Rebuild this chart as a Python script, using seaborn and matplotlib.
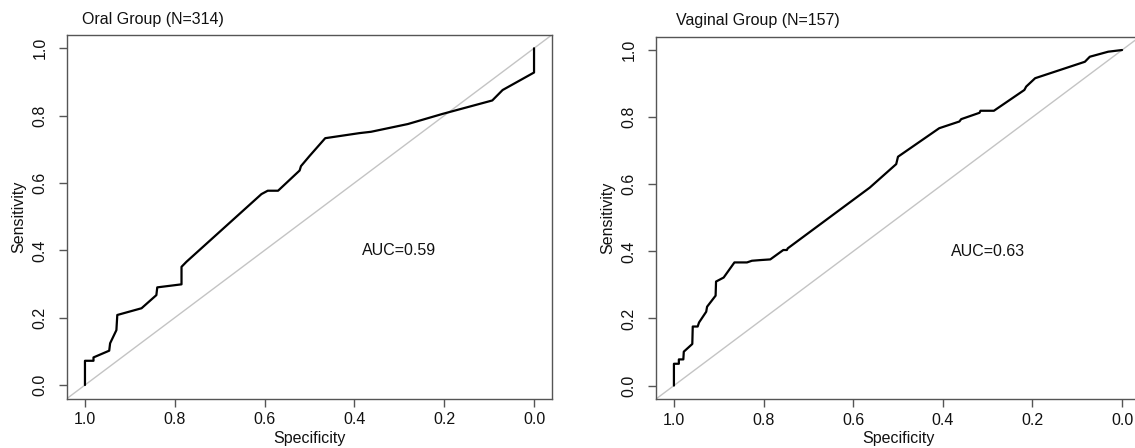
import pandas as pd
import numpy as np
import matplotlib
matplotlib.use('Agg')
import matplotlib.pyplot as plt
import seaborn as sns

# ROC curve points (specificity, sensitivity)
oral_spec = [1.0, 1.0, 0.981, 0.981, 0.946, 0.944, 0.930, 0.928, 0.874, 0.841, 0.839,
             0.785, 0.785, 0.774, 0.607, 0.593, 0.570, 0.522, 0.519, 0.500, 0.465,
             0.389, 0.363, 0.281, 0.204, 0.093, 0.070, 0.0, 0.0]
oral_sens = [0.0, 0.072, 0.072, 0.082, 0.102, 0.124, 0.163, 0.208, 0.228, 0.267, 0.290,
             0.299, 0.351, 0.366, 0.567, 0.577, 0.577, 0.637, 0.650, 0.680, 0.733,
             0.748, 0.752, 0.775, 0.805, 0.845, 0.876, 0.928, 1.0]

vag_spec = [1.0, 1.0, 0.989, 0.989, 0.979, 0.978, 0.959, 0.958, 0.947, 0.944, 0.928,
            0.926, 0.907, 0.906, 0.889, 0.865, 0.837, 0.826, 0.807, 0.785, 0.756,
            0.748, 0.746, 0.563, 0.504, 0.500, 0.408, 0.363, 0.359, 0.318, 0.316,
            0.286, 0.218, 0.214, 0.194, 0.083, 0.072, 0.031, 0.0]
vag_sens = [0.0, 0.065, 0.065, 0.078, 0.078, 0.101, 0.124, 0.176, 0.176, 0.188, 0.220,
            0.235, 0.268, 0.310, 0.322, 0.367, 0.367, 0.372, 0.374, 0.376, 0.404,
            0.404, 0.409, 0.590, 0.660, 0.682, 0.767, 0.787, 0.794, 0.813, 0.819,
            0.819, 0.881, 0.891, 0.916, 0.965, 0.980, 0.995, 1.0]

titles = ['Oral Group (N=314)', 'Vaginal Group (N=157)']
auc_labels = ['AUC=0.59', 'AUC=0.63']
tick_vals = [0.0, 0.2, 0.4, 0.6, 0.8, 1.0]
tick_labels = ['0.0', '0.2', '0.4', '0.6', '0.8', '1.0']

sns.set_style('white')
plt.rcParams['font.family'] = ['Liberation Sans', 'DejaVu Sans']
plt.rcParams['font.size'] = 11.5

W, H = 1135, 448
fig = plt.figure(figsize=(W / 100, H / 100), dpi=100)

# axes boxes in pixels: left, top, right, bottom
boxes = [(67, 34.8, 552, 398.5), (656, 36.6, 1140, 399)]
title_x = [82, 676]
panels = [(oral_spec, oral_sens), (vag_spec, vag_sens)]

for i, (spec, sens) in enumerate(panels):
    l, t, r, b = boxes[i]
    ax = fig.add_axes([l / W, (H - b) / H, (r - l) / W, (b - t) / H])

    ax.axline((1, 0), (0, 1), color='#c4c4c4', lw=1.0, zorder=1)
    df = pd.DataFrame({'Specificity': spec, 'Sensitivity': sens})
    sns.lineplot(data=df, x='Specificity', y='Sensitivity', sort=False,
                 estimator=None, color='black', lw=1.6, ax=ax, zorder=3)

    ax.set_xlim(1.04, -0.04)
    ax.set_ylim(-0.04, 1.04)
    ax.set_xticks(tick_vals)
    ax.set_xticklabels(tick_labels)
    ax.set_yticks(tick_vals)
    ax.set_yticklabels(tick_labels, rotation=90, va='center')

    ax.tick_params(axis='both', direction='out', length=6, width=1,
                   color='#555555', labelsize=11.5, labelcolor='#111111')
    ax.tick_params(axis='x', pad=4, bottom=True)
    ax.tick_params(axis='y', pad=8, left=True)
    for sp in ax.spines.values():
        sp.set_color('#555555')
        sp.set_linewidth(1.0)

    ax.set_xlabel('Specificity', fontsize=11.5, color='#111111')
    ax.set_ylabel('Sensitivity', fontsize=11.5, color='#111111')
    # label offsets measured from the axes box edges (pixels)
    ax.xaxis.set_label_coords(0.5, -32 / (b - t))
    ax.yaxis.set_label_coords(-41 / (r - l), 0.5)

    ax.text(0.3, 0.4, auc_labels[i], ha='center', va='center',
            fontsize=11.5, color='#111111')
    ax.text((title_x[i] - l) / (r - l), (b - 20) / (b - t), titles[i],
            transform=ax.transAxes, ha='left', va='center',
            fontsize=11.5, color='#111111')

fig.savefig('out.png', dpi=100)
plt.close()
